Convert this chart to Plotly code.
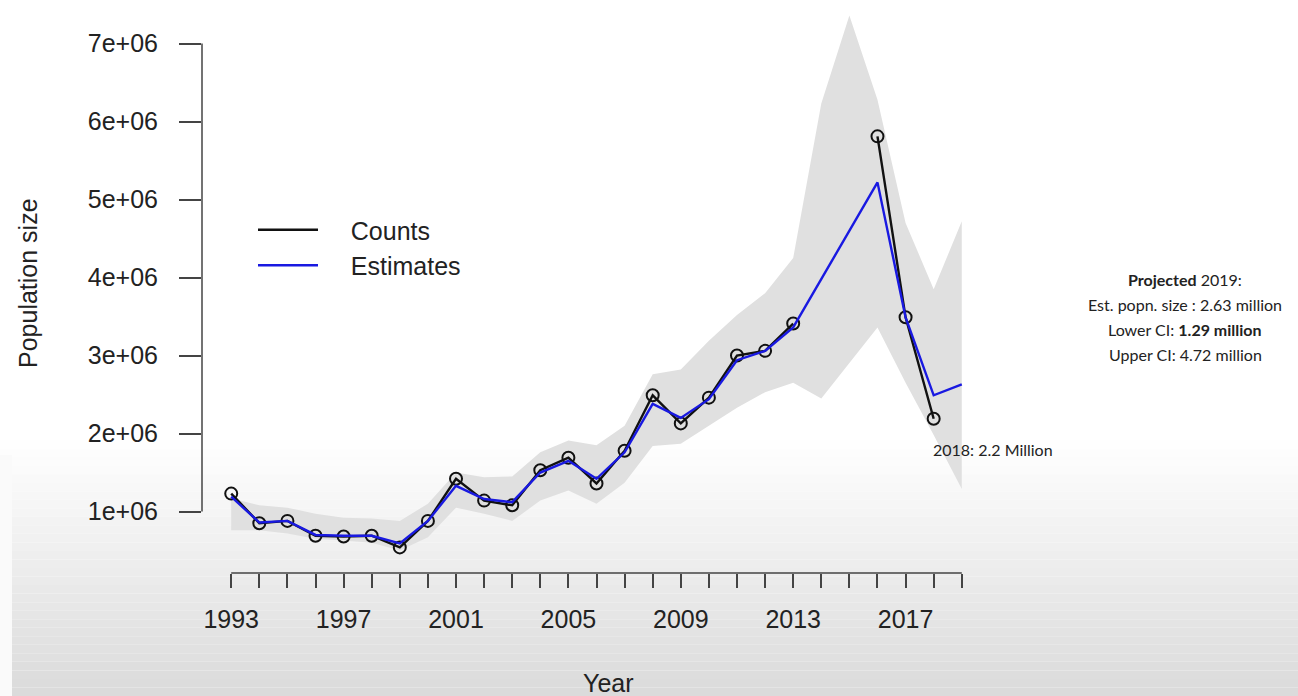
import plotly.graph_objects as go

# ---------------- data ----------------
years = list(range(1993, 2020))
count_years = list(range(1993, 2019))
counts = [1.23e6, 0.85e6, 0.88e6, 0.69e6, 0.68e6, 0.69e6, 0.54e6, 0.88e6, 1.42e6, 1.14e6,
          1.08e6, 1.53e6, 1.69e6, 1.36e6, 1.78e6, 2.49e6, 2.13e6, 2.46e6, 3.00e6, 3.06e6,
          3.41e6, None, None, 5.81e6, 3.49e6, 2.19e6]
est_years = [1993, 1994, 1995, 1996, 1997, 1998, 1999, 2000, 2001, 2002, 2003, 2004, 2005,
             2006, 2007, 2008, 2009, 2010, 2011, 2012, 2013, 2016, 2017, 2018, 2019]
estimates = [1.19e6, 0.86e6, 0.88e6, 0.70e6, 0.69e6, 0.69e6, 0.59e6, 0.88e6, 1.33e6, 1.16e6,
             1.12e6, 1.50e6, 1.65e6, 1.42e6, 1.76e6, 2.38e6, 2.20e6, 2.44e6, 2.94e6, 3.06e6,
             3.36e6, 5.22e6, 3.49e6, 2.49e6, 2.63e6]
upper_ci = [1.17e6, 1.08e6, 1.05e6, 0.97e6, 0.92e6, 0.91e6, 0.88e6, 1.10e6, 1.50e6, 1.44e6,
            1.45e6, 1.76e6, 1.91e6, 1.85e6, 2.10e6, 2.76e6, 2.82e6, 3.19e6, 3.52e6, 3.80e6,
            4.25e6, 6.23e6, 7.36e6, 6.28e6, 4.70e6, 3.85e6, 4.72e6]
lower_ci = [0.76e6, 0.76e6, 0.72e6, 0.65e6, 0.63e6, 0.60e6, 0.50e6, 0.67e6, 1.05e6, 0.97e6,
            0.88e6, 1.14e6, 1.27e6, 1.10e6, 1.37e6, 1.84e6, 1.87e6, 2.10e6, 2.33e6, 2.53e6,
            2.65e6, 2.45e6, 2.91e6, 3.36e6, 2.65e6, 1.98e6, 1.29e6]
x_tick_vals = list(range(1993, 2020))
x_tick_text = [str(y) if (y - 1993) % 4 == 0 else "" for y in x_tick_vals]
y_tick_vals = [1e6, 2e6, 3e6, 4e6, 5e6, 6e6, 7e6]
y_tick_text = ["1e+06", "2e+06", "3e+06", "4e+06", "5e+06", "6e+06", "7e+06"]

# ---------------- figure ----------------
W, H = 1298, 696
L, R, T, B = 202, 307, 0, 123
PW, PH = W - L - R, H - T - B

def px_x(px):
    return (px - L) / PW

def px_y(py):
    return (H - B - py) / PH

fig = go.Figure()

# confidence band
fig.add_trace(go.Scatter(
    x=years + years[::-1], y=upper_ci + lower_ci[::-1],
    fill="toself", fillcolor="rgb(224,224,224)", line=dict(width=0),
    mode="lines", showlegend=False, hoverinfo="skip"))

# counts
fig.add_trace(go.Scatter(
    x=count_years, y=counts, mode="lines+markers",
    line=dict(color="#111111", width=2.4),
    marker=dict(symbol="circle-open", size=12, color="#111111", line=dict(width=2)),
    connectgaps=False, showlegend=False, name="Counts"))

# estimates
fig.add_trace(go.Scatter(
    x=est_years, y=estimates, mode="lines",
    line=dict(color="rgb(25,25,225)", width=2.4),
    showlegend=False, name="Estimates"))

# legend-only entries
NB = "\u00a0" * 4
fig.add_trace(go.Scatter(x=[None], y=[None], mode="lines",
                         line=dict(color="#111111", width=2.5), name=NB + "Counts"))
fig.add_trace(go.Scatter(x=[None], y=[None], mode="lines",
                         line=dict(color="rgb(25,25,225)", width=2.5), name=NB + "Estimates"))

shapes = []
# background gradient (screen capture look)
n = 30
top_px, bot_px = 440, 696
for i in range(n):
    y0 = top_px + (bot_px - top_px) * i / n
    y1 = top_px + (bot_px - top_px) * (i + 1) / n
    t = (i + 0.5) / n
    g = int(round(255 - 37 * t))
    shapes.append(dict(type="rect", xref="paper", yref="paper",
                       x0=px_x(0), x1=px_x(W), y0=px_y(y1), y1=px_y(y0),
                       fillcolor=f"rgb({g},{g},{g})", line=dict(width=0), layer="below"))
shapes.append(dict(type="rect", xref="paper", yref="paper",
                   x0=px_x(0), x1=px_x(12), y0=px_y(H), y1=px_y(455),
                   fillcolor="rgb(250,250,250)", line=dict(width=0), layer="below"))
# R-style detached axis lines
shapes.append(dict(type="line", xref="x", yref="paper", x0=1993, x1=2019, y0=0, y1=0,
                   line=dict(color="#444444", width=1.5)))
shapes.append(dict(type="line", xref="paper", yref="y", x0=0, x1=0, y0=1e6, y1=7e6,
                   line=dict(color="#444444", width=1.5)))

annotations = [
    dict(text="Population size", xref="paper", yref="paper", x=px_x(28), y=px_y(283),
         textangle=-90, showarrow=False, font=dict(size=25, color="#222222"),
         xanchor="center", yanchor="middle"),
    dict(text="Year", xref="paper", yref="paper", x=px_x(608), y=px_y(683),
         showarrow=False, font=dict(size=25, color="#222222"),
         xanchor="center", yanchor="middle"),
    dict(text="2018: 2.2 Million", xref="paper", yref="paper", x=px_x(931), y=px_y(449),
         showarrow=False, font=dict(family="Lato", size=16, color="#222222"),
         xanchor="left", yanchor="middle"),
]
right_lines = ["<b>Projected</b> 2019:", "Est. popn. size : 2.63 million",
               "Lower CI: <b>1.29 million</b>", "Upper CI: 4.72 million"]
for k, txt in enumerate(right_lines):
    annotations.append(dict(text=txt, xref="paper", yref="paper", x=px_x(1185),
                            y=px_y(279 + 25 * k), showarrow=False,
                            font=dict(family="Lato", size=16, color="#222222"),
                            xanchor="center", yanchor="middle"))

fig.update_layout(
    width=W, height=H, autosize=False,
    margin=dict(l=L, r=R, t=T, b=B, pad=0),
    paper_bgcolor="white", plot_bgcolor="rgba(0,0,0,0)",
    font=dict(family="Liberation Sans, Arial, sans-serif", color="#222222"),
    shapes=shapes, annotations=annotations,
    legend=dict(x=px_x(253), y=px_y(207), xanchor="left", yanchor="top",
                bgcolor="rgba(0,0,0,0)", font=dict(size=25, color="#222222"),
                itemwidth=60, tracegroupgap=0),
    xaxis=dict(range=[1991.96, 2020.04], showgrid=False, zeroline=False, showline=False,
               tickmode="array", tickvals=x_tick_vals, ticktext=x_tick_text,
               ticks="outside", ticklen=14, tickwidth=1.5, tickcolor="#444444",
               tickfont=dict(size=25, color="#222222"), ticklabelstandoff=10),
    yaxis=dict(range=[0.212e6, 7.558e6], showgrid=False, zeroline=False, showline=False,
               tickmode="array", tickvals=y_tick_vals, ticktext=y_tick_text,
               ticks="outside", ticklen=22, tickwidth=1.5, tickcolor="#444444",
               tickfont=dict(size=25, color="#222222"), ticklabelstandoff=16),
)

fig.write_html("out.html")
